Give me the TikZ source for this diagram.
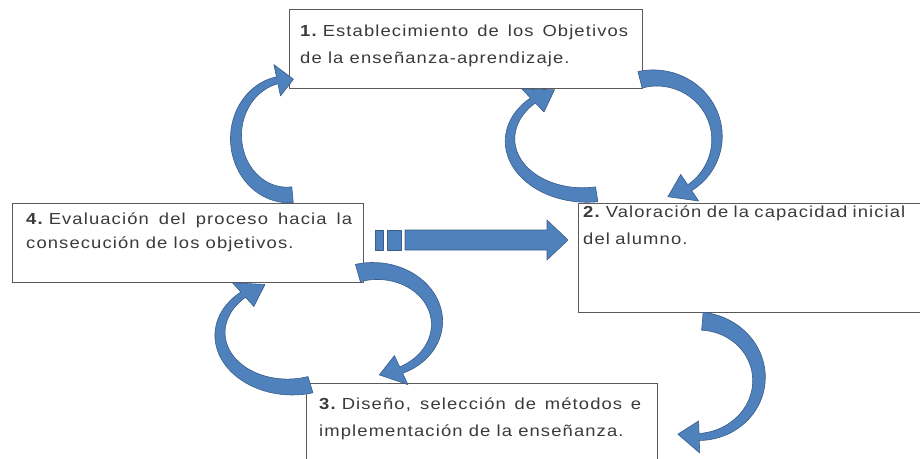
\documentclass[tikz,border=0pt]{standalone}
\usepackage{fontspec}
\setmainfont{Liberation Sans}[FakeStretch=1.15,LetterSpace=7]
\definecolor{azul}{HTML}{4F81BD}
\definecolor{azulosc}{HTML}{385D8A}
\definecolor{borde}{HTML}{5A5A5A}
\definecolor{letra}{HTML}{3A3A3A}
\newcommand{\headw}{16}
% curved block arrow: cx, cy, rx, ry, tail angle, neck angle, tip angle, tail width, neck width
\newcommand{\bentarrow}[9]{%
  \filldraw[flecha]
    plot[domain=#5:#6] ({#1+(#3+(#8+(#9-#8)*(\x-#5)/(#6-#5))/2)*cos(\x)},{#2+(#4+(#8+(#9-#8)*(\x-#5)/(#6-#5))/2)*sin(\x)})
    -- ({#1+(#3+\headw)*cos(#6)},{#2+(#4+\headw)*sin(#6)})
    -- ({#1+#3*cos(#7)},{#2+#4*sin(#7)})
    -- ({#1+(#3-\headw)*cos(#6)},{#2+(#4-\headw)*sin(#6)})
    -- plot[domain=#6:#5] ({#1+(#3-(#8+(#9-#8)*(\x-#5)/(#6-#5))/2)*cos(\x)},{#2+(#4-(#8+(#9-#8)*(\x-#5)/(#6-#5))/2)*sin(\x)})
    -- cycle;}

\begin{document}
\begin{tikzpicture}[x=1pt,y=-1pt,samples=40,
    caja/.style={draw=borde, line width=1.2pt, fill=white, anchor=north west, inner sep=0pt},
    texto/.style={anchor=base west, inner sep=0pt, text=letra, font=\fontsize{16}{27}\selectfont},
    flecha/.style={fill=azul, draw=azulosc, line width=0.6pt, line join=round}]
  \useasboundingbox (0,0) rectangle (920,458);
  % boxes
  \node[caja, minimum width=353pt, minimum height=79pt] (objetivos) at (289,9) {};
  \node[caja, minimum width=351pt, minimum height=79pt] (evaluacion) at (12,203) {};
  \node[caja, minimum width=360pt, minimum height=109pt] (valoracion) at (578,203) {};
  \node[caja, minimum width=351pt, minimum height=90pt] (diseno) at (306,383) {};
  % texts
  \node[texto, text width=328pt, align=justify] (txtobj) at (300,36)
    {\textbf{1.}\hspace{5pt}Establecimiento de los Objetivos\linebreak de la enseñanza-aprendizaje.};
  \node[texto, text width=340pt, align=left] (txtval) at (583,217)
    {\textbf{2.}\hspace{5pt}Valoración de la capacidad inicial\\ del alumno.};
  \node[texto, text width=322pt, align=justify] (txtdis) at (319,409)
    {\textbf{3.}\hspace{5pt}Diseño, selección de métodos e\linebreak implementación de la enseñanza.};
  \node[texto, text width=326pt, align=justify, font=\fontsize{16}{24}\selectfont] (txteva) at (26,224)
    {\textbf{4.}\hspace{5pt}Evaluación del proceso hacia la\linebreak consecución de los objetivos.};
  % curved arrows
  \bentarrow{288}{137}{52}{58}{85}{258}{276}{16}{7}
  \bentarrow{585}{140}{75}{55}{81}{226}{246}{15}{7}
  \bentarrow{655}{138}{62}{60}{256}{416}{438}{17}{7}
  \bentarrow{375}{323}{62}{52}{254}{425}{446}{18}{7}
  \bentarrow{290}{334}{70}{53}{73}{228}{249}{17}{7}
  \bentarrow{697}{379}{62}{58}{275}{448}{468}{18}{7}
  % straight arrow
  \filldraw[flecha] (375,230) rectangle (383,250);
  \filldraw[flecha] (387,230) rectangle (401,250);
  \filldraw[flecha] (405,230) -- (547,230) -- (547,220) -- (568,240) -- (547,260)
    -- (547,250) -- (405,250) -- cycle;
\end{tikzpicture}
\end{document}
